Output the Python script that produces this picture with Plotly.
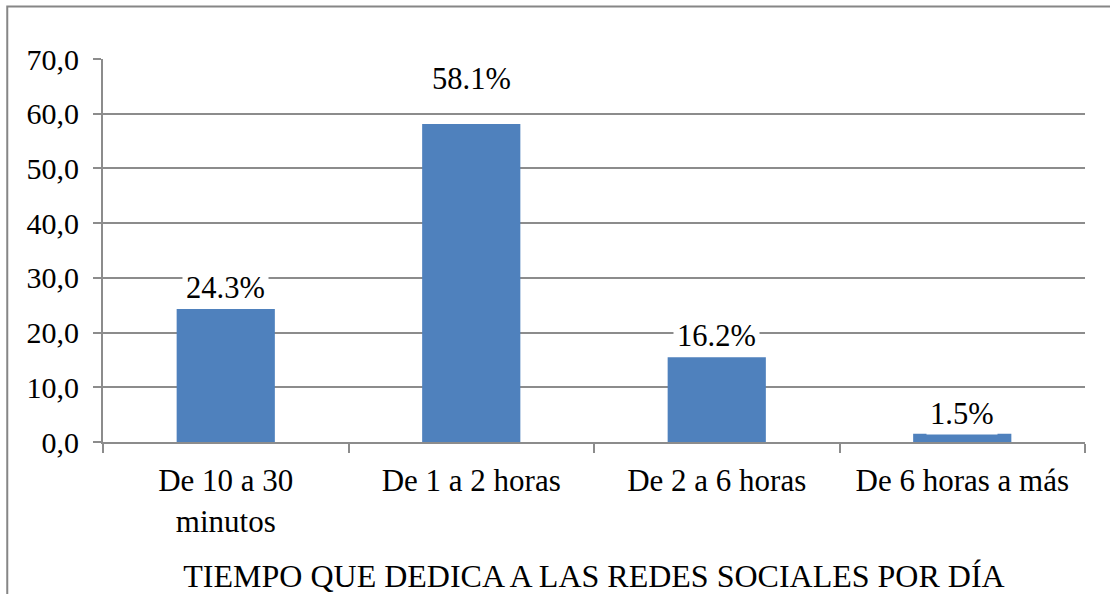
"""Tiempo que dedica a las redes sociales por día - bar chart."""

import plotly.graph_objects as go

# Data
categories = ["De 10 a 30<br>minutos", "De 1 a 2 horas", "De 2 a 6 horas", "De 6 horas a más"]
bar_values = [24.3, 58.1, 15.5, 1.5]
label_texts = ["24.3%", "58.1%", "16.2%", "1.5%"]
label_offsets = [21, 45, 21, 20]  # px above each bar top, as placed in the original
y_ticks = [0, 10, 20, 30, 40, 50, 60, 70]

FONT = "Liberation Serif"
GRID = "#8c8c8c"

fig = go.Figure()

fig.add_trace(
    go.Bar(
        x=categories,
        y=bar_values,
        marker=dict(color="#4f81bd", line=dict(width=0)),
        width=0.4,
        showlegend=False,
        hoverinfo="skip",
    )
)

# Data labels with white boxes that cut the gridlines, like Excel
for cat, val, txt, off in zip(categories, bar_values, label_texts, label_offsets):
    fig.add_annotation(
        x=cat,
        y=val,
        text=txt,
        showarrow=False,
        yshift=off,
        bgcolor="white",
        borderpad=3,
        font=dict(family=FONT, size=30.5, color="black"),
    )

# Outer chart frame (right and bottom sides fall outside the picture)
fig.add_shape(
    type="rect",
    xref="paper",
    yref="paper",
    x0=-0.0975,
    x1=1.06,
    y0=-0.6,
    y1=1.137,
    line=dict(color="#868686", width=2),
    fillcolor="rgba(0,0,0,0)",
    layer="below",
)

fig.update_layout(
    width=1110,
    height=594,
    margin=dict(l=103, r=25, t=59, b=152),
    paper_bgcolor="white",
    plot_bgcolor="white",
    separators=", ",
    font=dict(family=FONT, size=30, color="black"),
    bargap=0.6,
    xaxis=dict(
        type="category",
        automargin=False,
        showline=True,
        linecolor=GRID,
        linewidth=2,
        ticks="outside",
        tickson="boundaries",
        ticklen=9,
        tickwidth=2,
        tickcolor=GRID,
        showgrid=False,
        ticklabelstandoff=10,
        tickfont=dict(family=FONT, size=31, color="black"),
        title=dict(
            text="TIEMPO QUE DEDICA A LAS REDES SOCIALES POR DÍA",
            font=dict(family=FONT, size=32, color="black"),
            standoff=35,
        ),
    ),
    yaxis=dict(
        range=[0, 70],
        automargin=False,
        tickvals=y_ticks,
        tickformat=".1f",
        showline=True,
        linecolor=GRID,
        linewidth=2,
        ticks="outside",
        ticklen=8,
        tickwidth=2,
        tickcolor=GRID,
        showgrid=True,
        gridcolor=GRID,
        gridwidth=2,
        zeroline=False,
        ticklabelstandoff=8,
        tickfont=dict(family=FONT, size=30, color="black"),
    ),
)

fig.write_html(
    "out.html",
    config={"displayModeBar": False},
    post_script="document.body.style.margin = '0';",
)
